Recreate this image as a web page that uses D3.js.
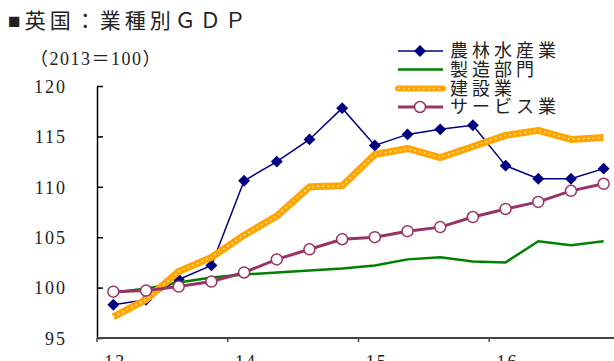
<!DOCTYPE html>
<html>
<head>
<meta charset="utf-8">
<script src="https://cdn.jsdelivr.net/npm/d3@7"></script>
<style>
  body { margin: 0; background: #fff; }
  svg { display: block; }
  text { font-family: "Liberation Serif", "Noto Sans CJK JP", serif; fill: #222; }
</style>
</head>
<body>
<svg id="chart" width="614" height="361"></svg>
<script>
// quarters 2013Q1 .. 2016Q4
var quarters = ["13Q1","13Q2","13Q3","13Q4","14Q1","14Q2","14Q3","14Q4",
                "15Q1","15Q2","15Q3","15Q4","16Q1","16Q2","16Q3","16Q4"]
var yearTicks = ["13Q1","14Q1","15Q1","16Q1"]
var yearLabels = ["13","14","15","16"]
var yTicks = [95, 100, 105, 110, 115, 120]

var seriesNames = ["農林水産業", "製造部門", "建設業", "サービス業"]
var agri   = [98.3, 98.8, 100.8, 102.2, 110.6, 112.5, 114.7, 117.8, 114.1, 115.2, 115.7, 116.1, 112.1, 110.8, 110.8, 111.8]
var manu   = [99.5, 99.9, 100.5, 101.0, 101.3, 101.5, 101.7, 101.9, 102.2, 102.8, 103.0, 102.6, 102.5, 104.6, 104.2, 104.6]
var constr = [97.1, 98.8, 101.6, 103.0, 105.2, 107.1, 110.0, 110.1, 113.2, 113.8, 112.9, 114.0, 115.1, 115.6, 114.7, 114.9]
var serv   = [99.6, 99.7, 100.1, 100.6, 101.5, 102.8, 103.8, 104.8, 105.0, 105.6, 106.0, 107.0, 107.8, 108.5, 109.6, 110.3]

var serif = '"Liberation Serif", "Noto Sans CJK JP", serif'
var svg = d3.select("#chart")

var x = d3.scaleBand().domain(quarters).range([97, 620]).padding(0)
var y = d3.scaleLinear().domain([95, 120]).range([338, 86])
var bw = x.bandwidth()
var cx = function(d, i) { return x(quarters[i]) + bw / 2 }

// title
svg.append("text").attr("x", 8).attr("y", 28)
   .style("font-size", "21px").style("letter-spacing", "4px")
   .text("■英国：業種別ＧＤＰ")
svg.append("text").attr("x", 30).attr("y", 65)
   .style("font-family", serif)
   .style("font-size", "18px").style("letter-spacing", "1.5px")
   .text("（2013＝100）")

// y axis
var yAxis = svg.append("g").attr("transform", "translate(97,0)")
  .call(d3.axisLeft(y).tickValues(yTicks).tickSize(-6).tickSizeOuter(0).tickPadding(30))
yAxis.select(".domain").attr("stroke", "#000").attr("stroke-width", 1.5)
yAxis.selectAll(".tick line").attr("stroke", "#000").attr("stroke-width", 1.5)
yAxis.selectAll(".tick text").style("font-size", "18px").style("letter-spacing", "2px")
  .style("font-family", serif).attr("fill", "#222").attr("dy", "0.35em")

// x axis
var xAxis = svg.append("g").attr("transform", "translate(0,338)")
  .call(d3.axisBottom(x).tickValues(yearTicks).tickSize(4).tickSizeOuter(0)
         .tickFormat(function(d, i) { return yearLabels[i] }).tickPadding(13))
xAxis.select(".domain").attr("d", "M97,0H614").attr("stroke", "#444").attr("stroke-width", 2)
xAxis.selectAll(".tick line").attr("x1", -bw / 2).attr("x2", -bw / 2)
  .attr("stroke", "#444").attr("stroke-width", 1.5)
xAxis.selectAll(".tick text").style("font-size", "18px").style("letter-spacing", "2px")
  .style("font-family", serif).attr("fill", "#222").attr("dy", "0.71em").attr("dx", "2")

var line = d3.line().x(cx).y(function(d) { return y(d) })

// 農林水産業
svg.append("path").datum(agri).attr("d", line)
   .attr("fill", "none").attr("stroke", "#000080").attr("stroke-width", 1.5)
var diamond = d3.symbol().type(d3.symbolDiamond2).size(90)
svg.selectAll(".dia").data(agri).enter().append("path")
   .attr("transform", function(d, i) { return "translate(" + cx(d, i) + "," + y(d) + ")" })
   .attr("d", diamond).attr("fill", "#000080")

// 製造部門
svg.append("path").datum(manu).attr("d", line)
   .attr("fill", "none").attr("stroke", "#008000").attr("stroke-width", 2.5)

// 建設業
svg.append("path").datum(constr).attr("d", line)
   .attr("fill", "none").attr("stroke", "#FFA500").attr("stroke-width", 7).attr("stroke-linejoin", "round")
svg.append("path").datum(constr).attr("d", line)
   .attr("fill", "none").attr("stroke", "#ffe7b8").attr("stroke-width", 1.6)
   .attr("stroke-dasharray", "1.5 3.5")

// サービス業
svg.append("path").datum(serv).attr("d", line)
   .attr("fill", "none").attr("stroke", "#993366").attr("stroke-width", 3)
svg.selectAll(".circ").data(serv).enter().append("circle")
   .attr("cx", cx).attr("cy", function(d) { return y(d) }).attr("r", 5.5)
   .attr("fill", "#fff").attr("stroke", "#993366").attr("stroke-width", 1.5)

// legend
var leg = svg.append("g")
var rowY = [51, 69.5, 88.5, 107]
seriesNames.forEach(function(name, i) {
  var g = leg.append("g").attr("transform", "translate(0," + rowY[i] + ")")
  if (i == 0) {
    g.append("line").attr("x1", 398).attr("x2", 443).attr("stroke", "#000080").attr("stroke-width", 1.5)
    g.append("path").attr("transform", "translate(420,0)").attr("d", diamond).attr("fill", "#000080")
  } else if (i == 1) {
    g.append("line").attr("x1", 398).attr("x2", 443).attr("stroke", "#008000").attr("stroke-width", 2.5)
  } else if (i == 2) {
    g.append("line").attr("x1", 398).attr("x2", 443).attr("stroke", "#FFA500").attr("stroke-width", 6)
      .attr("stroke-linecap", "round")
    g.append("line").attr("x1", 398).attr("x2", 443).attr("stroke", "#ffe7b8").attr("stroke-width", 1.6)
      .attr("stroke-dasharray", "1.5 3.5")
  } else {
    g.append("line").attr("x1", 398).attr("x2", 443).attr("stroke", "#993366").attr("stroke-width", 3)
    g.append("circle").attr("cx", 420).attr("cy", 0).attr("r", 5.5)
      .attr("fill", "#fff").attr("stroke", "#993366").attr("stroke-width", 1.5)
  }
  g.append("text").attr("x", 450).attr("y", 0).attr("dy", "0.36em")
   .style("font-size", "18px").style("letter-spacing", "4px").text(name)
})
</script>
</body>
</html>
